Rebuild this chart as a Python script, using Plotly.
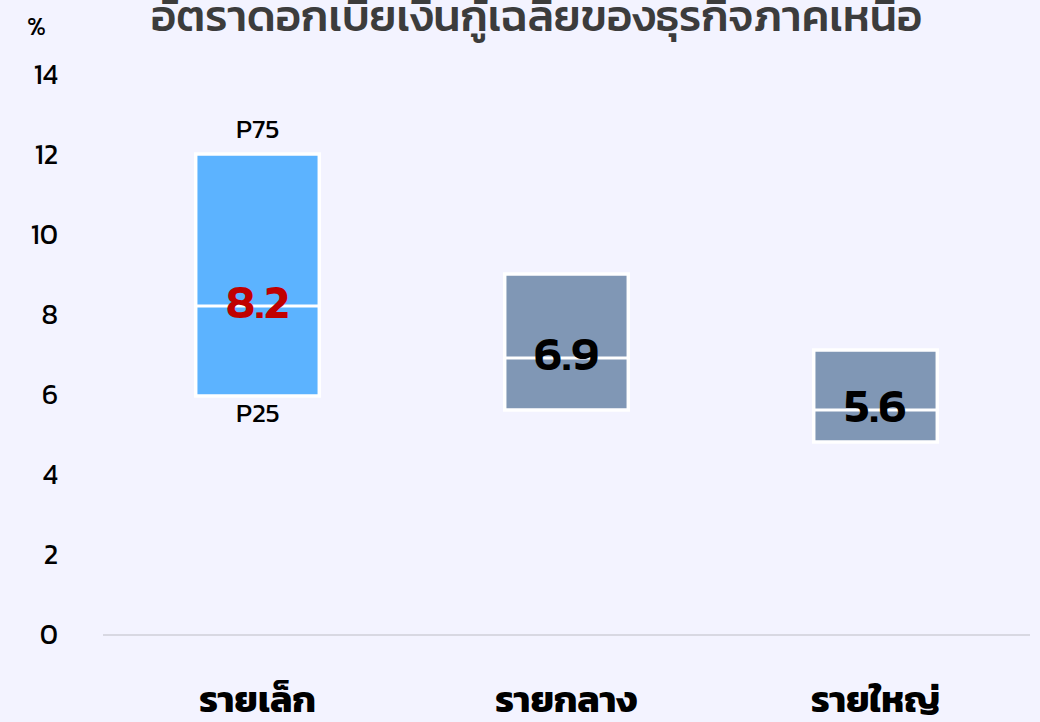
import plotly.graph_objects as go

categories = ["รายเล็ก", "รายกลาง", "รายใหญ่"]
p25 = [5.95, 5.6, 4.8]
p75 = [12.0, 9.0, 7.1]
median = [8.2, 6.9, 5.6]
median_labels = ["8.2", "6.9", "5.6"]
label_colors = ["#C00000", "#000000", "#000000"]
bar_colors = ["#5CB3FF", "#8097B5", "#8097B5"]
y_ticks = [0, 2, 4, 6, 8, 10, 12, 14]
title_text = "อัตราดอกเบี้ยเงินกู้เฉลี่ยของธุรกิจภาคเหนือ"
unit_text = "%"

FONT = "Kanit, 'Noto Sans Thai', 'Noto Sans', Inter, sans-serif"
BG = "#F3F3FF"
BAR_W = 0.4
xs = list(range(len(categories)))

fig = go.Figure()

fig.add_trace(go.Bar(
    x=xs,
    y=[hi - lo for hi, lo in zip(p75, p25)],
    base=p25,
    width=BAR_W,
    marker=dict(color=bar_colors, line=dict(color="white", width=3.5)),
    hoverinfo="skip",
    showlegend=False,
))

mx, my = [], []
for i, m in zip(xs, median):
    mx += [i - BAR_W / 2, i + BAR_W / 2, None]
    my += [m, m, None]
fig.add_trace(go.Scatter(
    x=mx, y=my, mode="lines",
    line=dict(color="white", width=3),
    hoverinfo="skip", showlegend=False,
))

fig.add_trace(go.Scatter(
    x=xs, y=median, mode="text",
    text=median_labels,
    textposition="middle center",
    textfont=dict(family=FONT, size=48, color=label_colors, weight=600),
    hoverinfo="skip", showlegend=False,
))

fig.add_annotation(x=xs[0], y=p75[0], text="P75", showarrow=False,
                   yshift=26, font=dict(family=FONT, size=27, color="#000000"))
fig.add_annotation(x=xs[0], y=p25[0], text="P25", showarrow=False,
                   yshift=-16, font=dict(family=FONT, size=27, color="#000000"))

fig.add_annotation(xref="paper", yref="paper", x=-0.0712, y=1.0875,
                   xanchor="center", yanchor="middle", text=unit_text,
                   showarrow=False, font=dict(family=FONT, size=26, color="#000000"))

fig.update_layout(
    width=1040, height=722,
    margin=dict(l=103, r=10, t=74, b=88, autoexpand=False),
    paper_bgcolor=BG,
    plot_bgcolor=BG,
    title=dict(text=title_text, x=0.516, xanchor="center", y=0.979, yanchor="middle",
               yref="container",
               font=dict(family=FONT, size=44, color="#3C3C3C", weight=500)),
    xaxis=dict(
        range=[-0.5, 2.5],
        tickvals=xs, ticktext=categories,
        tickfont=dict(family=FONT, size=37, color="#000000", weight="bold"),
        showgrid=False, zeroline=False,
        showline=True, linecolor="#D8D8E2", linewidth=2,
        ticks="", ticklabelstandoff=32,
        automargin=False,
        fixedrange=True,
    ),
    yaxis=dict(
        range=[0, 14],
        tickvals=y_ticks,
        tickfont=dict(family=FONT, size=28, color="#000000"),
        showgrid=False, zeroline=False, showline=False,
        ticks="", ticklabelstandoff=44,
        automargin=False,
        fixedrange=True,
    ),
)

fig.write_html(
    "out.html",
    config={"displayModeBar": False},
    post_script="document.body.style.margin='0';document.body.style.background='%s';" % BG,
)
